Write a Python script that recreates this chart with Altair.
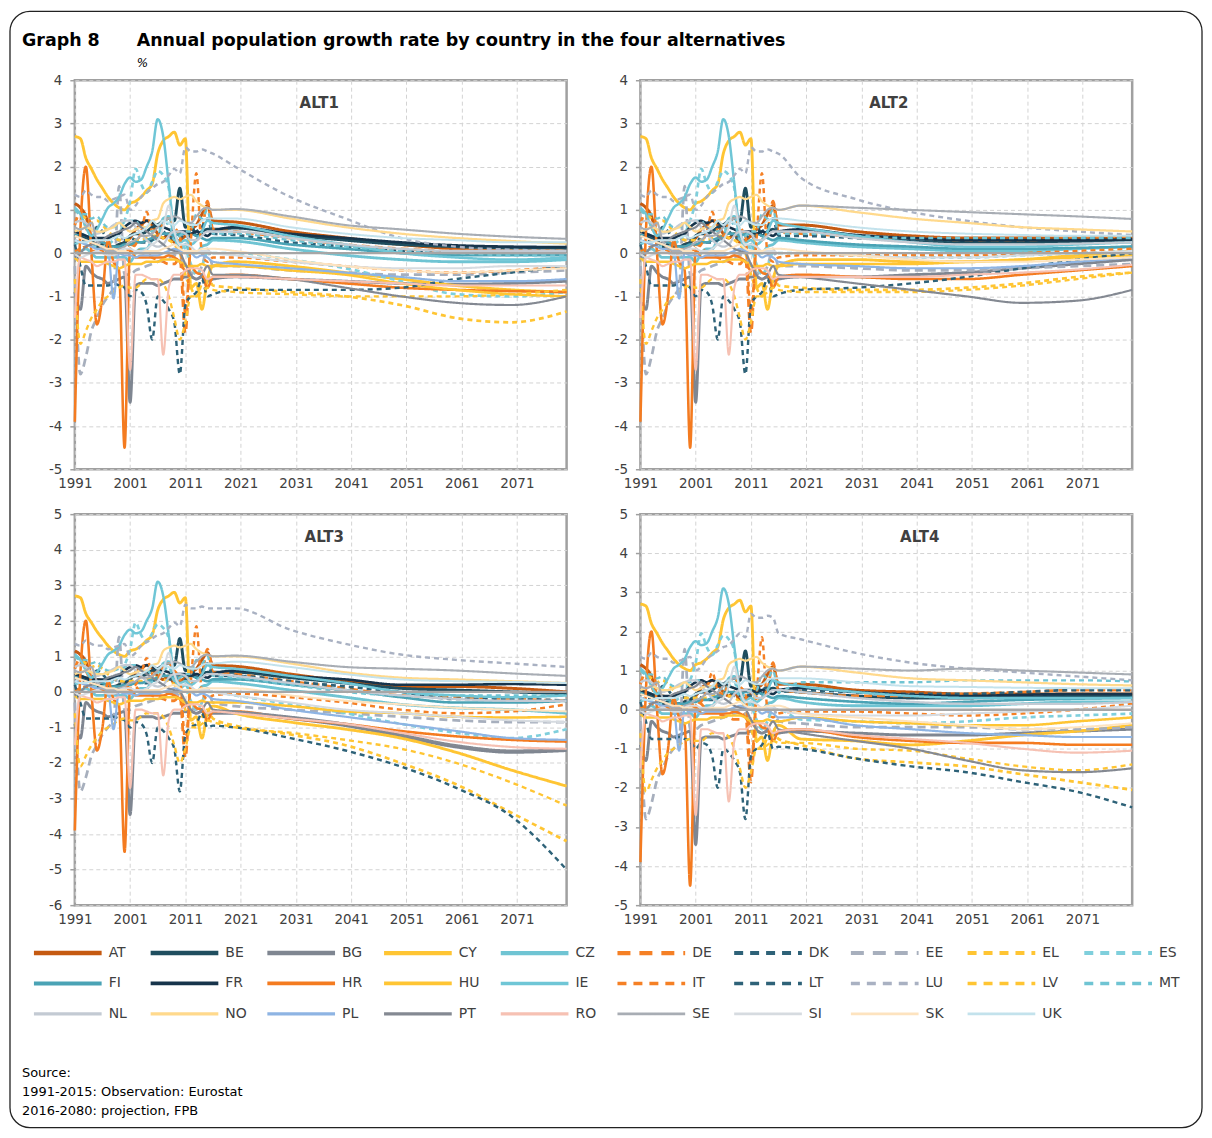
import altair as alt
import pandas as pd

# ---------------- data ----------------
GRAPH_NO = "Graph 8"
TITLE = "Annual population growth rate by country in the four alternatives"
UNIT = "%"
SOURCE_LINES = ["Source:", "1991-2015: Observation: Eurostat", "2016-2080: projection, FPB"]

COUNTRIES = ["AT", "BE", "BG", "CY", "CZ", "DE", "DK", "EE", "EL", "ES",
             "FI", "FR", "HR", "HU", "IE", "IT", "LT", "LU", "LV", "MT",
             "NL", "NO", "PL", "PT", "RO", "SE", "SI", "SK", "UK"]

OBS_YEARS = list(range(1991, 2016))
PROJ_YEARS = [2016, 2020, 2030, 2040, 2050, 2060, 2070, 2080]
X_TICKS = [1991, 2001, 2011, 2021, 2031, 2041, 2051, 2061, 2071]

# observed growth rates 1991-2015 (%)
OBS_AT = [1.15, 1.05, 0.85, 0.35, 0.15, 0.10, 0.10, 0.10, 0.20, 0.25, 0.35, 0.55, 0.65, 0.75, 0.65, 0.45, 0.35, 0.45, 0.25, 0.30, 0.40, 0.55, 0.65, 0.90, 1.10]
OBS_BE = [0.40, 0.40, 0.35, 0.30, 0.15, 0.20, 0.15, 0.15, 0.20, 0.25, 0.40, 0.45, 0.45, 0.50, 0.60, 0.65, 0.75, 0.80, 0.75, 1.50, 0.60, 0.65, 0.40, 0.50, 0.55]
OBS_BG = [-0.90, -1.30, -0.30, -0.45, -0.55, -0.60, -0.70, -0.65, -0.60, -0.55, -3.45, -0.75, -0.70, -0.70, -0.70, -0.75, -0.70, -0.65, -0.60, -0.60, -0.55, -0.55, -0.60, -0.55, -0.65]
OBS_CY = [2.70, 2.65, 2.20, 1.95, 1.70, 1.50, 1.30, 1.15, 1.05, 1.00, 1.15, 1.20, 1.30, 1.45, 1.60, 2.30, 2.60, 2.70, 2.80, 2.50, 2.65, -0.80, -0.70, -1.30, -0.60]
OBS_CZ = [0.05, 0.05, 0.10, 0.00, -0.10, -0.10, -0.10, -0.10, -0.10, -0.10, -0.20, 0.00, 0.10, 0.10, 0.30, 0.35, 0.80, 0.85, 0.40, 0.10, 0.20, 0.00, 0.00, 0.15, 0.20]
OBS_DE = [0.65, 0.95, 0.60, 0.35, 0.35, 0.30, 0.10, 0.00, 0.15, 0.10, 0.20, 0.15, 0.00, 0.00, -0.10, -0.15, -0.20, -0.25, -0.25, -0.10, -1.85, 0.20, 0.30, 0.50, 1.20]
OBS_DK = [0.20, 0.30, 0.30, 0.35, 0.60, 0.50, 0.35, 0.35, 0.30, 0.30, 0.35, 0.30, 0.25, 0.25, 0.30, 0.40, 0.50, 0.35, 0.35, 0.40, 0.35, 0.40, 0.50, 0.60, 0.80]
OBS_EE = [-0.30, -2.80, -2.40, -1.80, -1.50, -1.20, -1.00, -0.80, 1.55, -0.50, -0.50, -0.40, -0.35, -0.30, -0.25, -0.20, -0.15, -0.10, -0.05, -0.10, -0.30, -0.45, -0.50, -0.30, 0.10]
OBS_EL = [1.00, 0.90, 0.80, 0.70, 0.75, 0.65, 0.50, 0.40, 0.30, 0.30, 0.30, 0.30, 0.30, 0.35, 0.40, 0.40, 0.35, 0.30, 0.20, 0.00, -0.50, -0.80, -1.00, -0.70, -0.50]
OBS_ES = [0.20, 0.25, 0.20, 0.15, 0.15, 0.15, 0.20, 0.30, 0.45, 0.75, 1.20, 1.95, 1.60, 1.40, 1.65, 1.90, 1.80, 1.50, 0.40, 0.20, 0.10, -0.25, -0.50, -0.30, 0.00]
OBS_FI = [0.40, 0.45, 0.40, 0.35, 0.30, 0.25, 0.20, 0.15, 0.15, 0.20, 0.20, 0.25, 0.25, 0.30, 0.35, 0.40, 0.45, 0.45, 0.40, 0.45, 0.45, 0.45, 0.40, 0.35, 0.30]
OBS_FR = [0.50, 0.45, 0.40, 0.35, 0.35, 0.35, 0.35, 0.40, 0.45, 0.60, 0.70, 0.75, 0.70, 0.75, 0.70, 0.65, 0.60, 0.55, 0.50, 0.50, 0.50, 0.45, 0.50, 0.45, 0.40]
OBS_HR = [-3.90, 0.50, 2.00, 0.00, -1.65, -1.00, 0.30, -0.20, -0.40, -4.50, 0.10, -0.10, -0.10, -0.10, -0.10, -0.10, -0.10, -0.05, -0.10, -0.20, -0.40, -0.30, -0.45, -0.50, -0.80]
OBS_HU = [-0.10, -0.20, -0.20, -0.20, -0.20, -0.20, -0.25, -0.30, -0.35, -0.30, -0.25, -0.25, -0.25, -0.20, -0.20, -0.20, -0.15, -0.15, -0.15, -0.20, -0.30, -0.30, -0.30, -0.25, -0.30]
OBS_IE = [1.05, 0.90, 0.60, 0.40, 0.55, 0.80, 1.05, 1.15, 1.30, 1.60, 1.75, 1.65, 1.70, 2.00, 2.35, 3.10, 2.70, 1.60, 0.50, 0.25, 0.30, 0.20, 0.30, 0.50, 0.75]
OBS_IT = [0.05, 0.10, 0.15, 0.05, 0.05, 0.05, 0.05, 0.05, 0.05, 0.05, 0.10, 0.20, 0.50, 0.95, 0.50, 0.40, 0.70, 0.80, 0.60, 0.40, -1.40, 0.30, 1.85, 0.00, -0.20]
OBS_LT = [0.20, -0.30, -0.75, -0.75, -0.75, -0.75, -0.75, -0.70, -0.75, -0.80, -1.00, -0.85, -0.90, -1.20, -2.00, -1.00, -1.10, -1.30, -1.60, -2.80, -1.20, -1.00, -0.90, -0.60, -1.00]
OBS_LU = [1.35, 1.30, 1.45, 1.35, 1.30, 1.30, 1.20, 1.25, 1.30, 1.35, 1.00, 1.10, 1.30, 1.40, 1.50, 1.60, 1.65, 1.80, 1.95, 1.85, 2.45, 2.35, 2.35, 2.40, 2.35]
OBS_LV = [-0.60, -2.10, -1.80, -1.50, -1.30, -1.10, -1.00, -0.90, -0.80, -0.75, -0.80, -0.80, -0.70, -0.60, -0.60, -0.60, -0.70, -1.00, -1.50, -2.00, -1.60, -1.00, -1.00, -0.90, -0.80]
OBS_MT = [1.00, 0.90, 0.90, 0.80, 0.85, 0.70, 0.60, 0.60, 0.65, 0.70, 0.75, 0.75, 0.60, 0.60, 0.50, 0.55, 0.60, 0.70, 0.30, 0.40, 0.50, 0.50, 0.90, 0.80, 1.00]
OBS_NL = [0.70, 0.75, 0.70, 0.55, 0.45, 0.50, 0.55, 0.65, 0.70, 0.75, 0.75, 0.60, 0.45, 0.30, 0.20, 0.15, 0.20, 0.40, 0.50, 0.50, 0.45, 0.30, 0.30, 0.40, 0.50]
OBS_NO = [0.50, 0.55, 0.60, 0.55, 0.50, 0.50, 0.55, 0.60, 0.70, 0.60, 0.50, 0.55, 0.60, 0.60, 0.75, 0.80, 1.15, 1.25, 1.30, 1.25, 1.30, 1.35, 1.20, 1.10, 1.05]
OBS_PL = [0.30, 0.25, 0.20, 0.15, 0.10, 0.10, 0.05, -1.05, 0.00, -0.05, -0.05, -0.10, -0.05, -0.05, -0.05, -0.05, 0.00, 0.05, 0.10, 0.05, 0.00, 0.00, -0.10, -0.05, -0.10]
OBS_PT = [-0.10, 0.00, 0.15, 0.20, 0.25, 0.30, 0.40, 0.45, 0.50, 0.55, 0.60, 0.70, 0.60, 0.50, 0.40, 0.30, 0.20, 0.10, 0.05, 0.00, -0.25, -0.50, -0.60, -0.50, -0.30]
OBS_RO = [-1.50, -0.10, -0.15, -0.20, -0.30, -0.25, -0.20, -0.20, -0.15, -0.15, -2.70, -0.50, -0.50, -0.55, -0.60, -0.60, -2.35, -0.80, -0.50, -0.50, -0.40, -0.35, -0.35, -0.40, -0.60]
OBS_SE = [0.60, 0.55, 0.60, 0.70, 0.30, 0.10, 0.05, 0.05, 0.10, 0.15, 0.25, 0.30, 0.40, 0.40, 0.45, 0.60, 0.75, 0.80, 0.85, 0.80, 0.70, 0.70, 0.85, 1.00, 1.05]
OBS_SI = [0.00, -0.10, -0.05, 0.00, 0.05, 0.00, -0.05, -0.05, 0.05, 0.10, 0.10, 0.05, 0.05, 0.10, 0.20, 0.30, 0.60, 1.10, 0.50, 0.20, 0.20, 0.15, 0.05, 0.05, 0.05]
OBS_SK = [0.40, 0.35, 0.30, 0.25, 0.20, 0.15, 0.10, 0.10, 0.05, 0.05, 0.00, 0.00, 0.00, 0.05, 0.05, 0.05, 0.10, 0.15, 0.20, 0.10, 0.05, 0.05, 0.05, 0.10, 0.10]
OBS_UK = [0.30, 0.25, 0.25, 0.30, 0.30, 0.30, 0.30, 0.35, 0.40, 0.35, 0.40, 0.45, 0.50, 0.60, 0.75, 0.65, 0.75, 0.70, 0.65, 0.75, 0.70, 0.65, 0.65, 0.75, 0.80]

OBS = {"AT": OBS_AT, "BE": OBS_BE, "BG": OBS_BG, "CY": OBS_CY, "CZ": OBS_CZ,
       "DE": OBS_DE, "DK": OBS_DK, "EE": OBS_EE, "EL": OBS_EL, "ES": OBS_ES,
       "FI": OBS_FI, "FR": OBS_FR, "HR": OBS_HR, "HU": OBS_HU, "IE": OBS_IE,
       "IT": OBS_IT, "LT": OBS_LT, "LU": OBS_LU, "LV": OBS_LV, "MT": OBS_MT,
       "NL": OBS_NL, "NO": OBS_NO, "PL": OBS_PL, "PT": OBS_PT, "RO": OBS_RO,
       "SE": OBS_SE, "SI": OBS_SI, "SK": OBS_SK, "UK": OBS_UK}

# projections at PROJ_YEARS (%)
ALT1 = {
    "AT": [0.75, 0.72, 0.50, 0.35, 0.20, 0.10, 0.05, 0.05],
    "BE": [0.55, 0.58, 0.42, 0.30, 0.20, 0.15, 0.12, 0.12],
    "BG": [-0.60, -0.55, -0.60, -0.65, -0.70, -0.72, -0.70, -0.65],
    "CY": [-0.30, -0.20, -0.30, -0.45, -0.60, -0.75, -0.85, -0.90],
    "CZ": [0.30, 0.28, 0.10, -0.05, -0.15, -0.20, -0.20, -0.15],
    "DE": [0.55, 0.50, 0.35, 0.20, 0.10, 0.05, 0.05, 0.05],
    "DK": [0.45, 0.42, 0.25, 0.15, 0.05, 0.00, 0.00, 0.05],
    "EE": [-0.30, -0.30, -0.40, -0.45, -0.50, -0.50, -0.45, -0.40],
    "EL": [-0.75, -0.80, -0.90, -1.00, -1.20, -1.50, -1.60, -1.35],
    "ES": [0.00, 0.00, -0.15, -0.35, -0.65, -0.95, -1.00, -0.90],
    "FI": [0.35, 0.35, 0.20, 0.10, 0.00, -0.05, -0.05, -0.05],
    "FR": [0.50, 0.60, 0.45, 0.35, 0.25, 0.18, 0.15, 0.14],
    "HR": [-0.55, -0.50, -0.60, -0.70, -0.80, -0.85, -0.88, -0.90],
    "HU": [-0.30, -0.30, -0.40, -0.50, -0.70, -0.85, -0.95, -1.00],
    "IE": [0.70, 0.65, 0.40, 0.20, 0.00, -0.10, -0.15, -0.10],
    "IT": [-0.10, -0.10, -0.20, -0.30, -0.40, -0.45, -0.40, -0.30],
    "LT": [-0.95, -0.85, -0.85, -0.85, -0.80, -0.60, -0.45, -0.30],
    "LU": [2.30, 2.00, 1.30, 0.80, 0.35, 0.15, 0.08, 0.05],
    "LV": [-0.85, -0.90, -0.95, -1.00, -1.00, -1.00, -0.95, -0.85],
    "MT": [0.45, 0.45, 0.30, 0.15, 0.05, 0.00, -0.05, -0.05],
    "NL": [0.50, 0.50, 0.35, 0.20, 0.10, 0.05, 0.05, 0.05],
    "NO": [1.00, 1.00, 0.80, 0.60, 0.45, 0.35, 0.28, 0.22],
    "PL": [-0.20, -0.25, -0.35, -0.45, -0.55, -0.65, -0.65, -0.60],
    "PT": [-0.50, -0.50, -0.60, -0.80, -1.00, -1.15, -1.20, -1.00],
    "RO": [-0.55, -0.55, -0.60, -0.65, -0.70, -0.75, -0.75, -0.75],
    "SE": [1.00, 1.02, 0.85, 0.65, 0.55, 0.45, 0.38, 0.33],
    "SI": [0.00, -0.05, -0.20, -0.30, -0.35, -0.35, -0.30, -0.30],
    "SK": [0.10, 0.05, -0.15, -0.30, -0.40, -0.45, -0.40, -0.35],
    "UK": [0.80, 0.80, 0.60, 0.45, 0.35, 0.30, 0.25, 0.25],
}
ALT2 = {
    "AT": [0.65, 0.65, 0.50, 0.40, 0.35, 0.35, 0.35, 0.35],
    "BE": [0.50, 0.52, 0.40, 0.30, 0.25, 0.25, 0.25, 0.28],
    "BG": [-0.60, -0.55, -0.55, -0.50, -0.45, -0.35, -0.25, -0.15],
    "CY": [-0.30, -0.15, -0.15, -0.20, -0.20, -0.15, -0.05, 0.05],
    "CZ": [0.30, 0.25, 0.15, 0.10, 0.05, 0.05, 0.10, 0.15],
    "DE": [0.50, 0.45, 0.40, 0.35, 0.30, 0.30, 0.35, 0.38],
    "DK": [0.40, 0.40, 0.35, 0.30, 0.30, 0.30, 0.35, 0.35],
    "EE": [-0.30, -0.30, -0.35, -0.40, -0.40, -0.35, -0.30, -0.25],
    "EL": [-0.75, -0.80, -0.85, -0.85, -0.80, -0.70, -0.55, -0.45],
    "ES": [0.00, 0.00, -0.05, -0.10, -0.10, -0.05, 0.00, 0.05],
    "FI": [0.35, 0.30, 0.20, 0.15, 0.10, 0.10, 0.12, 0.15],
    "FR": [0.50, 0.55, 0.42, 0.35, 0.30, 0.30, 0.30, 0.32],
    "HR": [-0.55, -0.50, -0.55, -0.60, -0.60, -0.50, -0.40, -0.30],
    "HU": [-0.30, -0.25, -0.25, -0.25, -0.20, -0.15, -0.10, -0.05],
    "IE": [0.70, 0.60, 0.40, 0.25, 0.15, 0.15, 0.20, 0.25],
    "IT": [-0.10, -0.05, -0.05, -0.05, -0.05, 0.00, 0.05, 0.10],
    "LT": [-0.95, -0.85, -0.80, -0.70, -0.55, -0.35, -0.15, 0.00],
    "LU": [2.30, 1.75, 1.25, 0.95, 0.75, 0.60, 0.50, 0.42],
    "LV": [-0.85, -0.90, -0.90, -0.90, -0.85, -0.75, -0.60, -0.45],
    "MT": [0.45, 0.45, 0.40, 0.35, 0.35, 0.35, 0.35, 0.35],
    "NL": [0.50, 0.50, 0.35, 0.25, 0.20, 0.20, 0.22, 0.25],
    "NO": [1.00, 1.10, 0.95, 0.80, 0.70, 0.60, 0.55, 0.50],
    "PL": [-0.20, -0.25, -0.30, -0.35, -0.35, -0.30, -0.20, -0.10],
    "PT": [-0.50, -0.55, -0.70, -0.85, -1.00, -1.15, -1.10, -0.85],
    "RO": [-0.55, -0.55, -0.55, -0.55, -0.50, -0.45, -0.38, -0.27],
    "SE": [1.00, 1.10, 1.05, 1.00, 0.95, 0.90, 0.85, 0.79],
    "SI": [0.00, 0.00, -0.05, -0.10, -0.10, -0.05, 0.00, 0.05],
    "SK": [0.10, 0.05, -0.05, -0.15, -0.20, -0.20, -0.15, -0.10],
    "UK": [0.80, 0.75, 0.60, 0.50, 0.45, 0.42, 0.40, 0.40],
}
ALT3 = {
    "AT": [0.75, 0.72, 0.50, 0.30, 0.15, 0.15, 0.10, 0.00],
    "BE": [0.55, 0.55, 0.40, 0.25, 0.10, 0.05, 0.00, -0.05],
    "BG": [-0.60, -0.60, -0.75, -0.95, -1.25, -1.55, -1.70, -1.65],
    "CY": [-0.40, -0.60, -0.85, -1.05, -1.30, -1.70, -2.20, -2.65],
    "CZ": [0.30, 0.25, 0.05, -0.15, -0.35, -0.45, -0.50, -0.60],
    "DE": [0.55, 0.50, 0.30, 0.10, -0.10, -0.15, -0.20, -0.25],
    "DK": [0.45, 0.45, 0.30, 0.15, 0.00, -0.20, -0.20, -0.25],
    "EE": [-0.30, -0.40, -0.50, -0.60, -0.70, -0.80, -0.85, -0.85],
    "EL": [-0.75, -0.95, -1.20, -1.50, -2.00, -2.60, -3.40, -4.20],
    "ES": [0.00, -0.10, -0.35, -0.60, -0.90, -1.15, -1.30, -1.05],
    "FI": [0.35, 0.35, 0.20, 0.05, -0.15, -0.30, -0.30, -0.25],
    "FR": [0.50, 0.60, 0.45, 0.35, 0.20, 0.20, 0.22, 0.20],
    "HR": [-0.55, -0.55, -0.75, -0.90, -1.10, -1.25, -1.35, -1.40],
    "HU": [-0.30, -0.30, -0.40, -0.55, -0.60, -0.70, -0.72, -0.70],
    "IE": [0.70, 0.65, 0.45, 0.25, 0.00, -0.10, -0.15, -0.10],
    "IT": [-0.10, -0.05, -0.15, -0.30, -0.50, -0.60, -0.55, -0.35],
    "LT": [-0.95, -1.00, -1.30, -1.65, -2.10, -2.70, -3.50, -5.00],
    "LU": [2.35, 2.35, 1.75, 1.35, 1.05, 0.90, 0.80, 0.70],
    "LV": [-0.85, -1.00, -1.15, -1.35, -1.60, -2.00, -2.55, -3.20],
    "MT": [0.45, 0.40, 0.20, 0.00, -0.10, -0.10, -0.10, -0.10],
    "NL": [0.50, 0.45, 0.25, 0.05, -0.10, -0.20, -0.25, -0.25],
    "NO": [1.00, 1.00, 0.80, 0.55, 0.40, 0.35, 0.30, 0.25],
    "PL": [-0.20, -0.25, -0.50, -0.70, -0.90, -1.10, -1.30, -1.35],
    "PT": [-0.50, -0.55, -0.70, -0.90, -1.20, -1.50, -1.65, -1.62],
    "RO": [-0.55, -0.60, -0.75, -0.90, -1.15, -1.40, -1.55, -1.60],
    "SE": [1.00, 1.02, 0.85, 0.70, 0.65, 0.60, 0.52, 0.45],
    "SI": [0.00, -0.10, -0.30, -0.50, -0.60, -0.70, -0.80, -0.85],
    "SK": [0.10, 0.10, -0.10, -0.25, -0.35, -0.45, -0.50, -0.55],
    "UK": [0.80, 0.85, 0.70, 0.50, 0.35, 0.30, 0.28, 0.25],
}
ALT4 = {
    "AT": [0.65, 0.65, 0.50, 0.45, 0.40, 0.40, 0.40, 0.40],
    "BE": [0.50, 0.45, 0.35, 0.30, 0.30, 0.32, 0.35, 0.35],
    "BG": [-0.60, -0.55, -0.60, -0.65, -0.65, -0.60, -0.55, -0.50],
    "CY": [-0.40, -0.75, -0.80, -0.90, -0.80, -0.65, -0.55, -0.40],
    "CZ": [0.30, 0.20, 0.10, 0.10, 0.10, 0.15, 0.20, 0.20],
    "DE": [0.50, 0.45, 0.35, 0.35, 0.40, 0.45, 0.50, 0.50],
    "DK": [0.45, 0.50, 0.45, 0.40, 0.40, 0.45, 0.50, 0.50],
    "EE": [-0.30, -0.35, -0.45, -0.45, -0.45, -0.50, -0.50, -0.45],
    "EL": [-0.75, -0.90, -1.25, -1.35, -1.45, -1.65, -1.85, -2.05],
    "ES": [0.00, -0.25, -0.30, -0.35, -0.30, -0.20, -0.15, -0.10],
    "FI": [0.35, 0.30, 0.20, 0.15, 0.20, 0.25, 0.28, 0.30],
    "FR": [0.50, 0.55, 0.45, 0.38, 0.35, 0.38, 0.40, 0.40],
    "HR": [-0.55, -0.50, -0.70, -0.80, -0.85, -0.85, -0.90, -0.90],
    "HU": [-0.30, -0.20, -0.30, -0.35, -0.40, -0.40, -0.30, -0.20],
    "IE": [0.70, 0.60, 0.45, 0.35, 0.30, 0.30, 0.30, 0.30],
    "IT": [-0.10, -0.05, -0.05, -0.10, -0.15, -0.10, 0.00, 0.15],
    "LT": [-0.95, -1.00, -1.25, -1.45, -1.60, -1.85, -2.10, -2.50],
    "LU": [1.95, 1.80, 1.45, 1.20, 1.05, 0.95, 0.85, 0.75],
    "LV": [-0.85, -0.85, -1.00, -1.05, -1.25, -1.45, -1.55, -1.40],
    "MT": [0.45, 0.70, 0.70, 0.70, 0.75, 0.75, 0.75, 0.72],
    "NL": [0.50, 0.45, 0.30, 0.20, 0.15, 0.15, 0.15, 0.20],
    "NO": [1.00, 1.10, 0.95, 0.80, 0.75, 0.70, 0.65, 0.62],
    "PL": [-0.20, -0.20, -0.40, -0.50, -0.60, -0.65, -0.70, -0.70],
    "PT": [-0.50, -0.60, -0.80, -1.00, -1.30, -1.55, -1.60, -1.50],
    "RO": [-0.55, -0.50, -0.65, -0.75, -0.85, -1.00, -1.10, -1.05],
    "SE": [1.00, 1.10, 1.05, 1.00, 1.05, 1.00, 0.95, 0.90],
    "SI": [0.00, -0.10, -0.15, -0.15, -0.10, -0.05, 0.00, 0.10],
    "SK": [0.10, -0.10, -0.20, -0.30, -0.40, -0.50, -0.45, -0.35],
    "UK": [0.80, 0.80, 0.70, 0.60, 0.58, 0.56, 0.55, 0.55],
}

# ---------------- styles & layout ----------------
COLORS = ["#c55a11", "#1f4e5f", "#7f8691", "#ffc533", "#6fc4d3",
          "#f58025", "#2e6278", "#a7afbd", "#ffc533", "#7fcfdc",
          "#4aa3b5", "#17344b", "#f47b20", "#ffc533", "#6fc6d6",
          "#f58025", "#2e6278", "#a9b1c2", "#ffc533", "#6fc4d3",
          "#c3cad3", "#ffd98c", "#8eb4e3", "#848992", "#f6c1b3",
          "#a8adb4", "#d6dbe0", "#fde3bf", "#c3e2ec"]
THICK = {"AT", "BG", "DE", "EE"}
DASHED = {"DE", "DK", "EE", "EL", "ES", "IT", "LT", "LU", "LV", "MT"}
PLOT_W = [3.0 if c in THICK else 2.0 for c in COUNTRIES]
LEG_W = [4.5 if c in THICK else 2.8 for c in COUNTRIES]
PLOT_DASH = [([8, 5] if c in THICK else [5, 4]) if c in DASHED else [1, 0] for c in COUNTRIES]
LEG_DASH = [([13, 9] if c in THICK else [9, 7]) if c in DASHED else [1, 0] for c in COUNTRIES]

FONT = "DejaVu Sans"
TXT = "#404040"
GRID = "#d3d3d3"
BORDER = "#a0a0a0"
PW, PH_TOP, PH_BOT = 493, 390, 392
COL_GAP, ROW_GAP = 74, 45
COL_PX = 117          # legend column pitch
ROW_PX = 30.5         # legend row pitch
LEG_X0 = -41          # first legend line, relative to the ALT3 plot's left edge
LEG_Y0 = 440          # first legend row, relative to the ALT3 plot's top edge


def panel(name, proj, ymin, ymax, title_x):
    rows = []
    for c in COUNTRIES:
        for yr, v in zip(OBS_YEARS, OBS[c]):
            rows.append({"country": c, "year": yr, "value": v})
        for yr, v in zip(PROJ_YEARS, proj[c]):
            rows.append({"country": c, "year": yr, "value": v})
    df = pd.DataFrame(rows)
    x = alt.X("year:Q",
              scale=alt.Scale(domain=[1991, 2080], nice=False, zero=False),
              axis=alt.Axis(values=X_TICKS, format="d", title=None, grid=True,
                            gridDash=[4, 3], gridColor=GRID, ticks=False, domain=False,
                            labelPadding=7, labelFlush=False, labelFont=FONT,
                            labelFontSize=13.5, labelColor=TXT, labelOverlap=False))
    y = alt.Y("value:Q",
              scale=alt.Scale(domain=[ymin, ymax], nice=False, zero=False),
              axis=alt.Axis(values=list(range(ymin, ymax + 1)), title=None, grid=True,
                            labelExpr="'' + datum.value",
                            gridDash=[4, 3], gridColor=GRID, tickSize=5, tickColor=BORDER,
                            tickWidth=1.5, domain=False, labelPadding=8, labelFont=FONT,
                            labelFontSize=13.5, labelColor=TXT, labelOverlap=False))
    zero = alt.Chart(pd.DataFrame({"value": [0]})).mark_rule(
        color="#a6a6a6", strokeWidth=2.5).encode(y=y)
    lines = alt.Chart(df).mark_line(interpolate="monotone", strokeJoin="round").encode(
        x=x, y=y,
        color=alt.Color("country:N", scale=alt.Scale(domain=COUNTRIES, range=COLORS), legend=None),
        strokeDash=alt.StrokeDash("country:N", scale=alt.Scale(domain=COUNTRIES, range=PLOT_DASH), legend=None),
        strokeWidth=alt.StrokeWidth("country:N", scale=alt.Scale(domain=COUNTRIES, range=PLOT_W), legend=None),
    )
    label = alt.Chart(pd.DataFrame({"t": [name]})).mark_text(
        font=FONT, fontWeight="bold", fontSize=15, color=TXT).encode(
        x=alt.value(title_x), y=alt.value(23), text="t:N")
    return alt.layer(lines, zero, label)


def header_layer():
    # figure heading, placed relative to the ALT1 plot's top-left corner
    num = alt.Chart(pd.DataFrame({"t": [GRAPH_NO]})).mark_text(
        align="left", baseline="middle", font=FONT, fontSize=17.5, fontWeight="bold",
        color="#000000").encode(x=alt.value(-53), y=alt.value(-39), text="t:N")
    ttl = alt.Chart(pd.DataFrame({"t": [TITLE]})).mark_text(
        align="left", baseline="middle", font=FONT, fontSize=17.5, fontWeight="bold",
        color="#000000").encode(x=alt.value(62), y=alt.value(-39), text="t:N")
    unit = alt.Chart(pd.DataFrame({"t": [UNIT]})).mark_text(
        align="left", baseline="middle", font=FONT, fontSize=12, fontStyle="italic",
        color="#000000").encode(x=alt.value(62), y=alt.value(-17), text="t:N")
    return alt.layer(num, ttl, unit)


def legend_layer(h):
    leg = pd.DataFrame({"country": COUNTRIES,
                        "col": [i % 10 for i in range(len(COUNTRIES))],
                        "row": [i // 10 for i in range(len(COUNTRIES))]})
    leg["x2"] = leg["col"] + 0.58
    leg["tx"] = leg["col"] + 0.64
    x0 = -LEG_X0 / COL_PX
    xs = alt.Scale(domain=[x0, x0 + PW / COL_PX], nice=False, zero=False)
    y0 = -LEG_Y0 / ROW_PX
    ys = alt.Scale(domain=[y0, y0 + h / ROW_PX], nice=False, zero=False, reverse=True)
    rules = alt.Chart(leg).mark_rule().encode(
        x=alt.X("col:Q", scale=xs, axis=None), x2="x2:Q",
        y=alt.Y("row:Q", scale=ys, axis=None),
        color=alt.Color("country:N", scale=alt.Scale(domain=COUNTRIES, range=COLORS), legend=None),
        strokeDash=alt.StrokeDash("country:N", scale=alt.Scale(domain=COUNTRIES, range=LEG_DASH), legend=None),
        strokeWidth=alt.StrokeWidth("country:N", scale=alt.Scale(domain=COUNTRIES, range=LEG_W), legend=None),
    )
    texts = alt.Chart(leg).mark_text(align="left", baseline="middle", font=FONT,
                                     fontSize=14, color=TXT).encode(
        x=alt.X("tx:Q", scale=xs, axis=None), y=alt.Y("row:Q", scale=ys, axis=None),
        text="country:N")
    src = pd.DataFrame({"t": SOURCE_LINES,
                        "row": [3.94 + 0.62 * i for i in range(len(SOURCE_LINES))]})
    src_text = alt.Chart(src).mark_text(align="left", baseline="middle", font=FONT,
                                        fontSize=13, color="#000000").encode(
        x=alt.value(-53), y=alt.Y("row:Q", scale=ys, axis=None), text="t:N")
    # rounded outer frame of the whole figure
    frame = alt.Chart(pd.DataFrame({"f": [0]})).mark_rect(
        fill="transparent", stroke="#222222", strokeWidth=1.3, cornerRadius=20).encode(
        x=alt.value(-65), x2=alt.value(1130), y=alt.value(-504), y2=alt.value(615))
    return alt.layer(frame, rules, texts, src_text)


VIEW = alt.ViewBackground(stroke=BORDER, strokeWidth=2.5)

p1 = alt.layer(panel("ALT1", ALT1, -5, 4, 245), header_layer()).properties(
    width=PW, height=PH_TOP, view=VIEW)
p2 = panel("ALT2", ALT2, -5, 4, 249).properties(width=PW, height=PH_TOP, view=VIEW)
p3 = alt.layer(panel("ALT3", ALT3, -6, 5, 250), legend_layer(PH_BOT)).resolve_scale(
    x="independent", y="independent", color="independent",
    strokeDash="independent", strokeWidth="independent"
).properties(width=PW, height=PH_BOT, view=VIEW)
p4 = panel("ALT4", ALT4, -5, 5, 280).properties(width=PW, height=PH_BOT, view=VIEW)

chart = alt.concat(
    p1, p2, p3, p4, columns=2, bounds="flush",
    spacing=alt.RowColnumber(row=ROW_GAP, column=COL_GAP),
).resolve_scale(
    color="independent", strokeDash="independent", strokeWidth="independent"
).properties(
    padding={"left": 0, "top": 0, "right": 0, "bottom": 0},
).configure(font=FONT)

chart.save("out.html", embed_options={"renderer": "svg", "actions": False})
